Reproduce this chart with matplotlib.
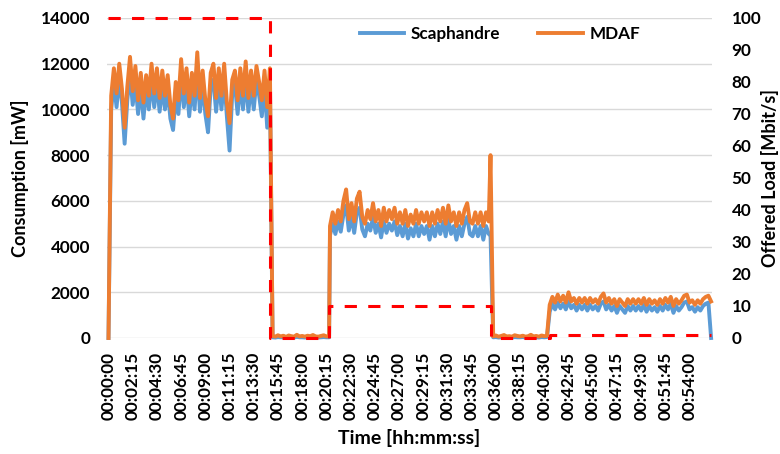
import numpy as np
import matplotlib

matplotlib.use("Agg")
import matplotlib.pyplot as plt

plt.rcParams["font.family"] = ["Lato", "DejaVu Sans"]
plt.rcParams["font.weight"] = "bold"

STEP_S = 15  # sampling step of the power readings, seconds

# busy phase 1: 100 Mbit/s, samples from t=0 s to t=900 s
busy1_mdaf = [
    0,
    10600, 11800, 10700, 12000, 10900, 9200, 11000, 12300, 10800, 11900,
    10400, 11600, 10300, 11500, 10600, 12000, 10700, 11800, 10500, 11700,
    10600, 11500, 10200, 9600, 11200, 10400, 12200, 10700, 11800, 10300,
    11600, 10600, 12500, 10500, 11700, 10400, 9700, 11600, 12000, 10500,
    11800, 10600, 12000, 10300, 9400, 11300, 11700, 10400, 11800, 10600,
    12100, 10500, 11700, 10600, 11900, 11200, 10400, 11700, 10100, 11800,
]
busy1_scaph = [
    0,
    10000, 11200, 10100, 11400, 10300, 8500, 10400, 11600, 10200, 11200,
    9800, 11000, 9600, 10900, 10000, 11300, 10100, 11200, 9900, 11000,
    10000, 10900, 9600, 9100, 10600, 9800, 11500, 10100, 11200, 9700,
    11000, 10000, 11800, 9900, 11100, 9800, 9000, 11000, 11300, 9900,
    11200, 10000, 11400, 9700, 8200, 10700, 11100, 9800, 11200, 10000,
    11400, 9900, 11100, 10000, 11300, 10600, 9700, 11100, 9200, 11200,
]

# idle phase 1: samples from t=915 s to t=1230 s
idle1_mdaf = [90, 60, 120, 70, 100, 50, 110, 80, 60, 140, 70,
              90, 60, 100, 80, 130, 70, 60, 90, 120, 70, 80]
idle1_scaph = [30, 20, 40, 30, 30, 20, 40, 30, 20, 50, 30,
               30, 20, 40, 30, 40, 30, 20, 30, 40, 30, 30]

# busy phase 2: 10 Mbit/s, samples from t=1235 s to t=2120 s
busy2_mdaf = [
    4900, 5500, 5000, 5600, 5100, 6000, 6500, 5200, 5900, 5100,
    6100, 6400, 5300, 5000, 5600, 5200, 5900, 5100, 5600, 4900,
    5700, 5100, 5600, 5200, 5700, 5000, 5500, 5000, 5600, 4900,
    5400, 5000, 5600, 5000, 5500, 5100, 5500, 4900, 5500, 5000,
    5600, 5100, 5700, 5000, 5800, 5100, 5500, 4900, 5500, 5000,
    5600, 5900, 5100, 5000, 5500, 5000, 5500, 4900, 5500, 5100,
]
busy2_scaph = [
    4500, 5000, 4550, 5100, 4650, 5400, 5800, 4700, 5300, 4600,
    5500, 5700, 4750, 4450, 5000, 4700, 5300, 4600, 5000, 4400,
    5100, 4600, 5000, 4700, 5100, 4500, 4900, 4450, 5000, 4350,
    4800, 4450, 5000, 4450, 4900, 4550, 4900, 4300, 4900, 4450,
    5000, 4550, 5100, 4450, 5200, 4550, 4900, 4300, 4900, 4450,
    5000, 5300, 4550, 4450, 4900, 4450, 4900, 4300, 4900, 4550,
]

# reading at t=2130 s, end of busy phase 2
spike_t = 2130
spike_mdaf = 8000
spike_scaph = 4500

# idle phase 2: samples from t=2145 s to t=2445 s
idle2_mdaf = [70, 110, 60, 90, 130, 70, 80, 60, 120, 90, 70,
              100, 60, 80, 140, 70, 90, 60, 110, 80, 100]
idle2_scaph = [30, 40, 20, 30, 50, 30, 30, 20, 40, 30, 30,
               40, 20, 30, 50, 30, 30, 20, 40, 30, 40]

# busy phase 3: 1 Mbit/s, samples from t=2460 s to t=3360 s
busy3_mdaf = [
    1450, 1800, 1550, 1900, 1600, 1850, 1550, 2000, 1600, 1750,
    1500, 1750, 1550, 1750, 1500, 1750, 1550, 1700, 1500, 1800,
    1950, 1550, 1750, 1500, 1700, 1400, 1700, 1550, 1400, 1700,
    1500, 1700, 1500, 1700, 1500, 1750, 1450, 1700, 1500, 1650,
    1450, 1700, 1500, 1750, 1550, 1800, 1400, 1700, 1500, 1650,
    1850, 1900, 1550, 1650, 1450, 1650, 1500, 1700, 1800, 1850,
    1600,
]
busy3_scaph = [
    1150, 1500, 1250, 1550, 1300, 1500, 1250, 1600, 1300, 1450,
    1200, 1450, 1250, 1450, 1200, 1450, 1250, 1400, 1200, 1500,
    1600, 1250, 1450, 1200, 1400, 1100, 1400, 1250, 1100, 1400,
    1200, 1400, 1200, 1400, 1200, 1450, 1150, 1400, 1200, 1350,
    1150, 1400, 1200, 1450, 1250, 1500, 1100, 1400, 1200, 1350,
    1550, 1600, 1250, 1350, 1150, 1350, 1200, 1400, 1500, 1550,
    0,
]

# offered load schedule (step changes)
load_t = [0, 900, 1230, 2130, 2460, 3360]
load_mbps = [100, 0, 10, 0, 1, 1]

tick_seconds = list(range(0, 3241, 135))


def phase_times(start, n):
    return start + STEP_S * np.arange(n)


def hhmmss(sec):
    return f"{sec // 3600:02d}:{sec % 3600 // 60:02d}:{sec % 60:02d}"


t = np.concatenate([
    phase_times(0, len(busy1_mdaf)),
    phase_times(915, len(idle1_mdaf)),
    phase_times(1235, len(busy2_mdaf)),
    [spike_t],
    phase_times(2145, len(idle2_mdaf)),
    phase_times(2460, len(busy3_mdaf)),
])
mdaf = np.concatenate([busy1_mdaf, idle1_mdaf, busy2_mdaf, [spike_mdaf], idle2_mdaf, busy3_mdaf])
scaph = np.concatenate([busy1_scaph, idle1_scaph, busy2_scaph, [spike_scaph], idle2_scaph, busy3_scaph])

BLUE = "#5B9BD5"
ORANGE = "#ED7D31"
RED = "#FF0000"
GRID = "#D9D9D9"

fig = plt.figure(figsize=(7.8, 4.54), dpi=100)
ax = fig.add_axes([106.7 / 780, 116 / 454, 605.3 / 780, 320 / 454])

l1, = ax.plot(t, scaph, color=BLUE, lw=2.8, label="Scaphandre", clip_on=False, zorder=3)
l2, = ax.plot(t, mdaf, color=ORANGE, lw=2.8, label="MDAF", clip_on=False, zorder=4)

ax.set_xlim(-10, 3365)
ax.set_ylim(0, 14000)
ax.set_yticks(range(0, 14001, 2000))
ax.set_xticks(tick_seconds)
ax.set_xticklabels([hhmmss(s) for s in tick_seconds], rotation=90)
ax.grid(axis="y", color=GRID, lw=1.0)
ax.set_axisbelow(True)
for side in ("top", "right", "left", "bottom"):
    ax.spines[side].set_visible(False)
ax.tick_params(axis="both", length=0, labelsize=12.3)
ax.tick_params(axis="y", pad=12)
ax.tick_params(axis="x", pad=10)
ax.set_ylabel("Consumption [mW]", fontsize=13, fontweight="bold", labelpad=8)
ax.set_xlabel("Time [hh:mm:ss]", fontsize=14, fontweight="bold", labelpad=6)

ax2 = ax.twinx()
ax2.step(load_t, load_mbps, where="post", color=RED, lw=2.2,
         linestyle=(0, (4, 3.7)), clip_on=False, zorder=5)
ax2.set_ylim(0, 100)
ax2.set_yticks(range(0, 101, 10))
for side in ("top", "right", "left", "bottom"):
    ax2.spines[side].set_visible(False)
ax2.tick_params(axis="y", length=0, labelsize=12.3, pad=14)
ax2.set_ylabel("Offered Load [Mbit/s]", fontsize=13, fontweight="bold")
ax2.yaxis.set_label_coords(1.081, 0.5)

fig.legend(handles=[l1, l2], loc="center", bbox_to_anchor=(500 / 780, 1 - 34 / 454),
           ncol=2, frameon=False, fontsize=12.3, handlelength=2.6,
           columnspacing=2.2, handletextpad=0.4)

fig.savefig("out.png", dpi=100)
